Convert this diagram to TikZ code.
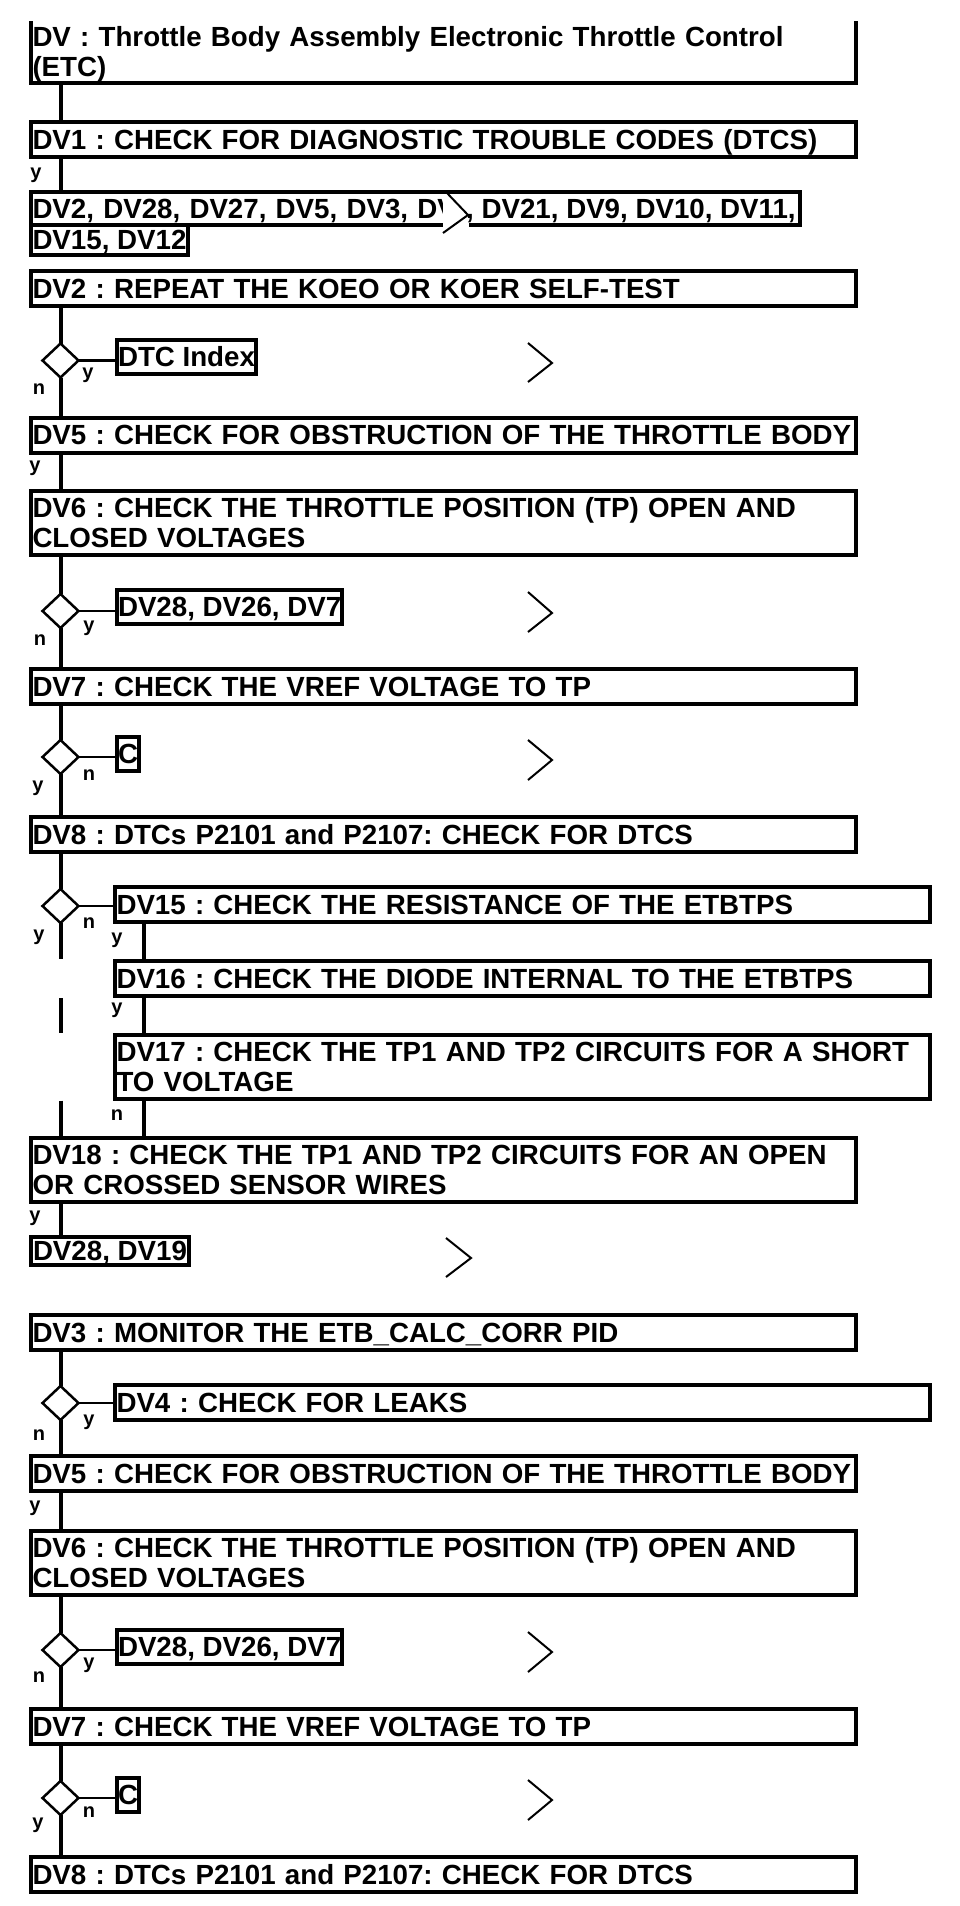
\documentclass[tikz,border=0pt]{standalone}
\usepackage{fontspec}
\setmainfont{Liberation Sans}
\usetikzlibrary{shapes.geometric}
\newcommand{\boxfont}{\fontsize{27.7}{30}\selectfont\bfseries\frenchspacing}
\newcommand{\lblfont}{\fontsize{20}{22}\selectfont\bfseries}

\begin{document}
\begin{tikzpicture}[x=1pt,y=-1pt,
  stepbox/.style={draw,line width=4pt,anchor=west,align=left,inner xsep=1.5pt,inner ysep=0pt,
    text width=822pt,minimum height=35pt,text height=19.8pt,text depth=0pt,font=\boxfont},
  twoline/.style={minimum height=64pt,text depth=30pt},
  sidebox/.style={stepbox,text width=812pt},
  linkbox/.style={draw,line width=4pt,anchor=west,inner xsep=1pt,inner ysep=0pt,
    minimum height=34pt,text height=19.8pt,text depth=0pt,font=\boxfont},
  query/.style={draw,diamond,line width=2.5pt,minimum width=36pt,minimum height=34pt,inner sep=0pt,outer sep=0pt},
  edge/.style={line width=4pt},
  branch/.style={line width=2.5pt},
  chev/.style={line width=2pt},
  lbl/.style={font=\lblfont,inner sep=0pt}]
  \fill[white] (0,0) rectangle (960,1906);
  \coordinate (trunk) at (60.5,0);
  \coordinate (side) at (143.7,0);
  % Title
  \node[stepbox,twoline,draw=none,outer sep=0pt,minimum height=62pt] (dv) at (31,52)
    {DV : Throttle Body Assembly Electronic Throttle Control\\(ETC)};
  \draw[edge] (dv.north west) -- (dv.south west) -- (dv.south east) -- (dv.north east);
  \node[stepbox] (dv1) at (29,139.5) {DV1 : CHECK FOR DIAGNOSTIC TROUBLE CODES (DTCS)};
  \draw[edge] (dv.south -| trunk) -- (dv1.north -| trunk);
  % DTC list
  \node[stepbox,text width=766pt,minimum height=33pt] (lst) at (29,208.5) {DV2, DV28, DV27, DV5, DV3, DV};
  \node[linkbox,inner xsep=1.5pt,minimum height=30pt] (lsttail) at (29,240) {DV15, DV12};
  \fill[white] (443,196) rectangle (469,230);
  \draw[chev] (447,193) -- (468,215) -- (443,233);
  \node[anchor=west,inner sep=0pt,text height=19.8pt,text depth=0pt,font=\boxfont] (lstmid) at (466,208.5) {, DV21, DV9, DV10, DV11,};
  \draw[edge] (dv1.south -| trunk) -- (lst.north -| trunk);
  \node[lbl] (l1) at (36,175) {y};
  % Self-test
  \node[stepbox] (dv2) at (29,288.5) {DV2 : REPEAT THE KOEO OR KOER SELF-TEST};
  \node[query] (q1) at (60.5,360.5) {};
  \node[linkbox] (idx) at (115,357) {DTC Index};
  \draw[chev] (528,343) -- (552,363) -- (528,382);
  \draw[edge] (dv2.south -| trunk) -- (q1.north);
  \draw[branch] (q1.east) -- (q1.east -| idx.west);
  \node[lbl] (l2) at (88,375) {y};
  \node[lbl] (l3) at (39,389) {n};
  % Obstruction and TP voltages
  \node[stepbox] (dv5) at (29,435) {DV5 : CHECK FOR OBSTRUCTION OF THE THROTTLE BODY};
  \draw[edge] (q1.south) -- (dv5.north -| trunk);
  \node[lbl] (l4) at (35,468) {y};
  \node[stepbox,twoline] (dv6) at (29,523) {DV6 : CHECK THE THROTTLE POSITION (TP) OPEN AND\\CLOSED VOLTAGES};
  \draw[edge] (dv5.south -| trunk) -- (dv6.north -| trunk);
  \node[query] (q2) at (60.5,611) {};
  \node[linkbox] (dva) at (115,607) {DV28, DV26, DV7};
  \draw[chev] (528,592) -- (552,613) -- (528,632);
  \draw[edge] (dv6.south -| trunk) -- (q2.north);
  \draw[branch] (q2.east) -- (q2.east -| dva.west);
  \node[lbl] (l5) at (89,628) {y};
  \node[lbl] (l6) at (40,640) {n};
  % VREF
  \node[stepbox] (dv7) at (29,686.5) {DV7 : CHECK THE VREF VOLTAGE TO TP};
  \draw[edge] (q2.south) -- (dv7.north -| trunk);
  \node[query] (q3) at (60.5,757) {};
  \node[linkbox] (ca) at (115,754) {C};
  \draw[chev] (528,740) -- (552,760) -- (528,780);
  \draw[edge] (dv7.south -| trunk) -- (q3.north);
  \draw[branch] (q3.east) -- (q3.east -| ca.west);
  \node[lbl] (l7) at (89,775) {n};
  \node[lbl] (l8) at (38,788) {y};
  % DTC check
  \node[stepbox] (dv8) at (29,834.5) {DV8 : DTCs P2101 and P2107: CHECK FOR DTCS};
  \draw[edge] (q3.south) -- (dv8.north -| trunk);
  \node[query] (q4) at (60.5,906) {};
  \node[sidebox] (dv15) at (113,904.5) {DV15 : CHECK THE RESISTANCE OF THE ETBTPS};
  \node[sidebox] (dv16) at (113,978.5) {DV16 : CHECK THE DIODE INTERNAL TO THE ETBTPS};
  \node[sidebox,twoline] (dv17) at (113,1066.5) {DV17 : CHECK THE TP1 AND TP2 CIRCUITS FOR A SHORT\\TO VOLTAGE};
  \node[stepbox,twoline] (dv18) at (29,1170) {DV18 : CHECK THE TP1 AND TP2 CIRCUITS FOR AN OPEN\\OR CROSSED SENSOR WIRES};
  \draw[edge] (dv8.south -| trunk) -- (q4.north);
  \draw[branch] (q4.east) -- (q4.east -| dv15.west);
  \draw[edge] (q4.south) -- (q4 |- dv16.north);
  \draw[edge] (q4 |- dv16.south) -- (q4 |- dv17.north);
  \draw[edge] (q4 |- dv17.south) -- (dv18.north -| trunk);
  \draw[edge] (dv15.south -| side) -- (dv16.north -| side);
  \draw[edge] (dv16.south -| side) -- (dv17.north -| side);
  \draw[edge] (dv17.south -| side) -- (dv18.north -| side);
  \node[lbl] (l9) at (89,923) {n};
  \node[lbl] (l10) at (39,937) {y};
  \node[lbl] (l11) at (117,940) {y};
  \node[lbl] (l12) at (117,1010) {y};
  \node[lbl] (l13) at (117,1115) {n};
  \node[linkbox,inner xsep=2pt,minimum height=28pt] (dvz) at (29,1251) {DV28, DV19};
  \draw[chev] (446,1238) -- (471,1258) -- (446,1277);
  \draw[edge] (dv18.south -| trunk) -- (dvz.north -| trunk);
  \node[lbl] (l14) at (35,1218) {y};
  % ETB_CALC_CORR
  \node[stepbox] (dv3) at (29,1332.5) {DV3 : MONITOR THE ETB\_CALC\_CORR PID};
  \node[query] (q5) at (60.5,1403) {};
  \node[sidebox] (dv4) at (113,1402.5) {DV4 : CHECK FOR LEAKS};
  \draw[edge] (dv3.south -| trunk) -- (q5.north);
  \draw[branch] (q5.east) -- (q5.east -| dv4.west);
  \node[lbl] (l15) at (89,1422) {y};
  \node[lbl] (l16) at (39,1435) {n};
  \node[stepbox] (dv5b) at (29,1473.5) {DV5 : CHECK FOR OBSTRUCTION OF THE THROTTLE BODY};
  \draw[edge] (q5.south) -- (dv5b.north -| trunk);
  \node[lbl] (l17) at (35,1508) {y};
  \node[stepbox,twoline] (dv6b) at (29,1562.5) {DV6 : CHECK THE THROTTLE POSITION (TP) OPEN AND\\CLOSED VOLTAGES};
  \draw[edge] (dv5b.south -| trunk) -- (dv6b.north -| trunk);
  \node[query] (q6) at (60.5,1650) {};
  \node[linkbox] (dvb) at (115,1647) {DV28, DV26, DV7};
  \draw[chev] (528,1632) -- (552,1652) -- (528,1672);
  \draw[edge] (dv6b.south -| trunk) -- (q6.north);
  \draw[branch] (q6.east) -- (q6.east -| dvb.west);
  \node[lbl] (l18) at (89,1665) {y};
  \node[lbl] (l19) at (39,1677) {n};
  \node[stepbox] (dv7b) at (29,1726.5) {DV7 : CHECK THE VREF VOLTAGE TO TP};
  \draw[edge] (q6.south) -- (dv7b.north -| trunk);
  \node[query] (q7) at (60.5,1798) {};
  \node[linkbox] (cb) at (115,1795) {C};
  \draw[chev] (528,1780) -- (552,1800) -- (528,1820);
  \draw[edge] (dv7b.south -| trunk) -- (q7.north);
  \draw[branch] (q7.east) -- (q7.east -| cb.west);
  \node[lbl] (l20) at (89,1812) {n};
  \node[lbl] (l21) at (38,1825) {y};
  \node[stepbox] (dv8b) at (29,1874.5) {DV8 : DTCs P2101 and P2107: CHECK FOR DTCS};
  \draw[edge] (q7.south) -- (dv8b.north -| trunk);
\end{tikzpicture}
\end{document}
